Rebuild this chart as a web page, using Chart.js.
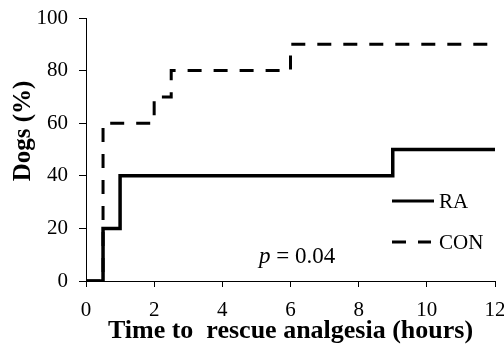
<!DOCTYPE html>
<html>
<head>
<meta charset="utf-8">
<script src="https://cdn.jsdelivr.net/npm/chart.js@4"></script>
<style>
  html, body { margin: 0; padding: 0; background: #fff; }
  #wrap { width: 504px; height: 347px; }
</style>
</head>
<body>
<div id="wrap"><canvas id="chart" width="504" height="347"></canvas></div>
<script>
// Kaplan-Meier style step data (time in hours, dogs %)
const raTimes = [0, 0.5, 1, 9, 12];
const raValues = [0, 20, 40, 50, 50];
const conTimes = [0, 0.5, 2, 2.5, 6, 12];
const conValues = [0, 60, 70, 80, 90, 90];

const xTicks = [0, 2, 4, 6, 8, 10, 12];
const yTicks = [0, 20, 40, 60, 80, 100];

const seriesNames = ["RA", "CON"];
const xTitle = "Time to  rescue analgesia (hours)";
const yTitle = "Dogs (%)";
const pText = "0.04";

const serif = "'Liberation Serif', 'Times New Roman', serif";

function toPoints(xs, ys) {
  return xs.map((x, i) => ({ x: x, y: ys[i] }));
}

// legend, y title and p value drawn inside the plot
const extraText = {
  id: "extraText",
  afterDraw(chart) {
    const ctx = chart.ctx;
    const ds = chart.data.datasets;
    ctx.save();
    ctx.fillStyle = "#000";
    ctx.strokeStyle = "#000";

    // legend
    const legendY = [201, 242];
    ds.forEach((d, i) => {
      ctx.beginPath();
      ctx.lineWidth = 3;
      ctx.setLineDash(d.borderDash || []);
      ctx.moveTo(392, legendY[i]);
      ctx.lineTo(i === 0 ? 434 : 431, legendY[i]);
      ctx.stroke();
      ctx.setLineDash([]);
      ctx.font = "21px " + serif;
      ctx.textBaseline = "middle";
      ctx.textAlign = "left";
      ctx.fillText(d.label, 439, legendY[i] + 1);
    });

    // p value
    ctx.textBaseline = "alphabetic";
    ctx.font = "italic 23px " + serif;
    ctx.fillText("p", 259, 263);
    const pw = ctx.measureText("p").width;
    ctx.font = "23px " + serif;
    ctx.fillText(" = " + pText, 259 + pw, 263);

    // y axis title
    ctx.translate(24, 131);
    ctx.rotate(-Math.PI / 2);
    ctx.font = "bold 25px " + serif;
    ctx.textAlign = "center";
    ctx.textBaseline = "middle";
    ctx.fillText(yTitle, 0, 0);
    ctx.restore();
  },
};

new Chart(document.getElementById("chart").getContext("2d"), {
  type: "line",
  data: {
    datasets: [
      {
        label: seriesNames[0],
        data: toPoints(raTimes, raValues),
        borderColor: "#000",
        borderWidth: 3.5,
        stepped: true,
        pointRadius: 0,
        fill: false,
      },
      {
        label: seriesNames[1],
        data: toPoints(conTimes, conValues),
        borderColor: "#000",
        borderWidth: 3,
        borderDash: [14, 12],
        stepped: true,
        pointRadius: 0,
        fill: false,
      },
    ],
  },
  options: {
    responsive: false,
    animation: false,
    layout: { padding: { top: 18, right: 9, left: 0, bottom: 0 } },
    plugins: {
      legend: { display: false },
      tooltip: { enabled: false },
    },
    scales: {
      x: {
        type: "linear",
        min: 0,
        max: 12,
        afterBuildTicks: (scale) => {
          scale.ticks = xTicks.map((v) => ({ value: v }));
        },
        afterFit: (scale) => {
          scale.height = 66;
          scale.paddingLeft = 0;
          scale.paddingRight = 0;
        },
        ticks: {
          color: "#000",
          font: { family: serif, size: 21 },
          padding: 11,
          maxRotation: 0,
        },
        grid: {
          drawOnChartArea: false,
          drawTicks: true,
          tickLength: 6,
          color: "#000",
        },
        border: { color: "#000", width: 1 },
        title: {
          display: true,
          text: xTitle,
          color: "#000",
          font: { family: serif, size: 26, weight: "bold" },
          padding: { top: 0, bottom: 0 },
        },
      },
      y: {
        min: 0,
        max: 100,
        afterBuildTicks: (scale) => {
          scale.ticks = yTicks.map((v) => ({ value: v }));
        },
        afterFit: (scale) => {
          scale.width = 86;
          scale.paddingTop = 0;
          scale.paddingBottom = 0;
        },
        ticks: {
          color: "#000",
          font: { family: serif, size: 21 },
          padding: 11,
        },
        grid: {
          drawOnChartArea: false,
          drawTicks: true,
          tickLength: 7,
          color: "#000",
        },
        border: { color: "#000", width: 1 },
      },
    },
  },
  plugins: [extraText],
});
</script>
</body>
</html>
